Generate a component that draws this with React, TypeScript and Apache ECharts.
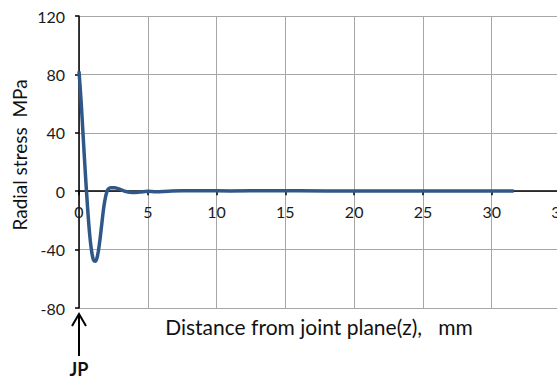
import React, { useEffect, useRef } from "react";
import * as echarts from "echarts";

// Radial stress profile along the distance from the joint plane
const distanceMm: number[] = [
  0, 0.15, 0.3, 0.45, 0.6, 0.75, 0.9, 1.05, 1.2, 1.35, 1.5, 1.65, 1.8, 1.95,
  2.1, 2.3, 2.6, 3.0, 3.4, 3.9, 4.4, 5.0, 5.6, 6.5, 7.5, 9, 11, 14, 18, 22, 26,
  29, 31.6,
];
const radialStressMPa: number[] = [
  82, 62, 38, 14, -8, -27, -40, -47, -48, -44, -35, -23, -11, -3,
  1.2, 2.4, 2.3, 1.2, -0.2, -0.9, -0.6, 0, -0.4, 0, 0.3, 0.3, 0.2, 0.3, 0.2,
  0.2, 0.2, 0.2, 0.2,
];
const xTicks = { min: 0, max: 35, interval: 5 };
const yTicks = { min: -80, max: 120, interval: 40 };

const fontFamily = "Lato, 'Open Sans', sans-serif";

const gridTop = 16;
const gridBottomPx = 308;
const plotHeight = gridBottomPx - gridTop;
// distance of the zero line above the bottom of the plot area
const zeroOffset = ((0 - yTicks.min) / (yTicks.max - yTicks.min)) * plotHeight;

export default function App() {
  const ref = useRef<HTMLDivElement>(null);

  useEffect(() => {
    if (!ref.current) return;
    const chart = echarts.init(ref.current, undefined, { renderer: "svg" });
    chart.setOption({
      animation: false,
      backgroundColor: "#ffffff",
      grid: { left: 79, top: gridTop, right: 39.5, bottom: 376 - gridBottomPx },
      xAxis: {
        type: "value",
        min: xTicks.min,
        max: xTicks.max,
        interval: xTicks.interval,
        position: "bottom",
        offset: -zeroOffset,
        axisLine: { onZero: false, lineStyle: { color: "#000", width: 1.5 } },
        axisTick: { show: true, length: 4, inside: false, lineStyle: { color: "#000", width: 1.5 } },
        axisLabel: { color: "#1a1a1a", fontSize: 16, margin: 12, fontFamily },
        splitLine: { show: true, lineStyle: { color: "#a6a6a6", width: 1 } },
      },
      yAxis: {
        type: "value",
        min: yTicks.min,
        max: yTicks.max,
        interval: yTicks.interval,
        axisLine: { show: true, onZero: false, lineStyle: { color: "#000", width: 1.5 } },
        axisTick: { show: true, length: 4, lineStyle: { color: "#000", width: 1.5 } },
        axisLabel: { color: "#1a1a1a", fontSize: 16, margin: 14, fontFamily },
        splitLine: { show: true, lineStyle: { color: "#a6a6a6", width: 1 } },
      },
      series: [
        {
          type: "line",
          data: distanceMm.map((d, i) => [d, radialStressMPa[i]]),
          showSymbol: false,
          smooth: 0.35,
          lineStyle: { color: "#2f5889", width: 3.5 },
          z: 5,
        },
      ],
      graphic: [
        {
          type: "text",
          x: 19.5,
          y: 155,
          rotation: Math.PI / 2,
          style: {
            text: "Radial stress  MPa",
            fontSize: 19,
            fontFamily,
            fill: "#111",
            align: "center",
            verticalAlign: "middle",
          },
        },
        {
          type: "text",
          x: 319,
          y: 326,
          style: {
            text: "Distance from joint plane(z),   mm",
            fontSize: 21,
            fontFamily,
            fill: "#111",
            align: "center",
            verticalAlign: "middle",
          },
        },
        {
          type: "line",
          shape: { x1: 79, y1: 314, x2: 79, y2: 356 },
          style: { stroke: "#000", lineWidth: 2 },
        },
        {
          type: "polyline",
          shape: { points: [[72, 326], [79, 314], [86, 326]] },
          style: { stroke: "#000", lineWidth: 2, fill: "none" },
        },
        {
          type: "text",
          x: 79,
          y: 360,
          style: {
            text: "JP",
            fontSize: 18,
            fontWeight: "bold",
            fontFamily,
            fill: "#111",
            align: "center",
            verticalAlign: "top",
          },
        },
      ],
    });
    return () => chart.dispose();
  }, []);

  return (
    <div
      ref={ref}
      style={{ position: "fixed", left: 0, top: 0, width: 600, height: 376 }}
    />
  );
}
